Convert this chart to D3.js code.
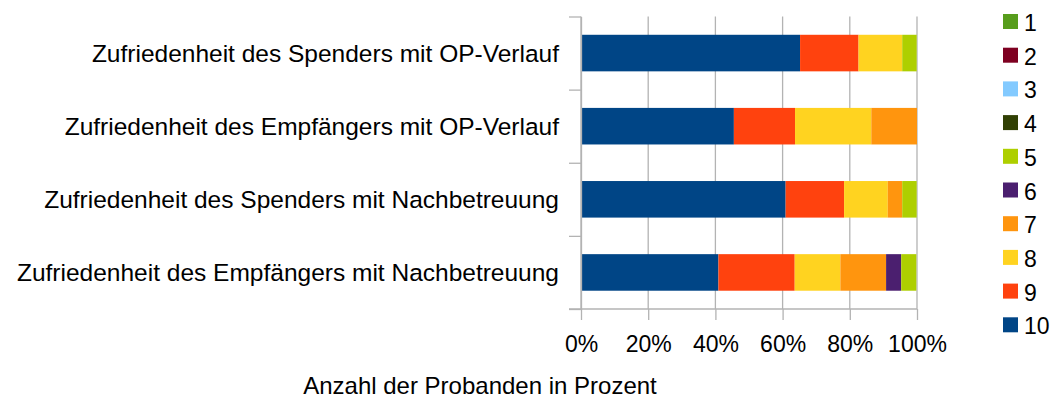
<!DOCTYPE html>
<html>
<head>
<meta charset="utf-8">
<script src="https://cdn.jsdelivr.net/npm/d3@7"></script>
<style>
  body { margin: 0; background: #fff; }
  text { font-family: "Liberation Sans", Arial, sans-serif; fill: #000; }
</style>
</head>
<body>
<script>
// categories, top to bottom
var categories = [
  "Zufriedenheit des Spenders mit OP-Verlauf",
  "Zufriedenheit des Empfängers mit OP-Verlauf",
  "Zufriedenheit des Spenders mit Nachbetreuung",
  "Zufriedenheit des Empfängers mit Nachbetreuung"
];

// legend / series names
var scores = ["1", "2", "3", "4", "5", "6", "7", "8", "9", "10"];
var colors = ["#579d1c", "#7e0021", "#83caff", "#314004", "#aecf00",
              "#4b1f6f", "#ff950e", "#ffd320", "#ff420e", "#004586"];

// percent per category for each score
var s1  = [0, 0, 0, 0];
var s2  = [0, 0, 0, 0];
var s3  = [0, 0, 0, 0];
var s4  = [0, 0, 0, 0];
var s5  = [4.3, 0, 4.3, 4.5];
var s6  = [0, 0, 0, 4.5];
var s7  = [0, 13.6, 4.3, 13.6];
var s8  = [13.0, 22.7, 13.0, 13.6];
var s9  = [17.4, 18.2, 17.4, 22.7];
var s10 = [65.2, 45.5, 60.9, 40.9];

var xTicks = [0, 20, 40, 60, 80, 100];
var xTitle = "Anzahl der Probanden in Prozent";

var series = { "1": s1, "2": s2, "3": s3, "4": s4, "5": s5,
               "6": s6, "7": s7, "8": s8, "9": s9, "10": s10 };

// table for the stack
var table = categories.map(function(c, i) {
  var row = { cat: c };
  scores.forEach(function(s) { row[s] = series[s][i]; });
  return row;
});

var W = 1055, H = 400;
var svg = d3.select("body").append("svg")
    .attr("width", W)
    .attr("height", H);

var x = d3.scaleLinear().domain([0, 100]).range([581, 917]);
var y = d3.scaleBand().domain(categories).range([16.5, 309])
    .paddingInner(0.5).paddingOuter(0.25);
var color = d3.scaleOrdinal().domain(scores).range(colors);

// gridlines
svg.append("g")
  .selectAll("line")
  .data(xTicks)
  .enter().append("line")
    .attr("x1", function(d) { return x(d); })
    .attr("x2", function(d) { return x(d); })
    .attr("y1", 16.5)
    .attr("y2", 309)
    .attr("stroke", "#b3b3b3")
    .attr("stroke-width", 1.3);

// stacked bars, 10 on the left
var stackOrder = scores.slice().reverse();
var stacked = d3.stack().keys(stackOrder)(table);

svg.append("g")
  .selectAll("g")
  .data(stacked)
  .enter().append("g")
    .attr("fill", function(d) { return color(d.key); })
  .selectAll("rect")
  .data(function(d) { return d; })
  .enter().append("rect")
    .attr("x", function(d) { return x(d[0]); })
    .attr("width", function(d) { return x(d[1]) - x(d[0]); })
    .attr("y", function(d) { return y(d.data.cat); })
    .attr("height", y.bandwidth());

// bottom axis
var xAxis = svg.append("g")
    .attr("transform", "translate(0,309)")
    .call(d3.axisBottom(x).tickValues(xTicks)
      .tickFormat(function(d) { return d + "%"; })
      .tickSize(11).tickPadding(16).tickSizeOuter(0));
xAxis.select(".domain").remove();
xAxis.append("line")
    .attr("x1", 569).attr("x2", x(100))
    .attr("stroke", "#b3b3b3").attr("stroke-width", 1.3);
xAxis.selectAll(".tick line").attr("stroke", "#b3b3b3").attr("stroke-width", 1.3);
xAxis.selectAll("text")
    .style("font-size", "23px")
    .style("font-family", "'Liberation Sans', Arial, sans-serif")
    .attr("fill", "#000");

// left axis, ticks at band edges
var edge = d3.scaleLinear().domain([0, categories.length]).range([16.5, 309]);
var yAxis = svg.append("g")
    .attr("transform", "translate(" + x(0) + ",0)")
    .call(d3.axisLeft(edge).ticks(categories.length)
      .tickFormat("").tickSize(12).tickSizeOuter(0));
yAxis.select(".domain").attr("stroke", "#b3b3b3").attr("stroke-width", 1.3);
yAxis.selectAll(".tick line").attr("stroke", "#b3b3b3").attr("stroke-width", 1.3);

// category labels
svg.append("g")
  .selectAll("text")
  .data(categories)
  .enter().append("text")
    .attr("x", 559)
    .attr("y", function(d) { return y(d) + y.bandwidth() / 2 + 9; })
    .attr("text-anchor", "end")
    .style("font-size", "24.5px")
    .text(function(d) { return d; });

// axis title
svg.append("text")
    .attr("x", 480)
    .attr("y", 394)
    .attr("text-anchor", "middle")
    .style("font-size", "24px")
    .text(xTitle);

// legend
var legend = svg.append("g")
  .selectAll("g")
  .data(scores)
  .enter().append("g")
    .attr("transform", function(d, i) { return "translate(1003," + (14 + i * 33.7) + ")"; });

legend.append("rect")
    .attr("width", 15)
    .attr("height", 15)
    .attr("fill", function(d) { return color(d); });

legend.append("text")
    .attr("x", 21)
    .attr("y", 17)
    .style("font-size", "23px")
    .text(function(d) { return d; });
</script>
</body>
</html>
